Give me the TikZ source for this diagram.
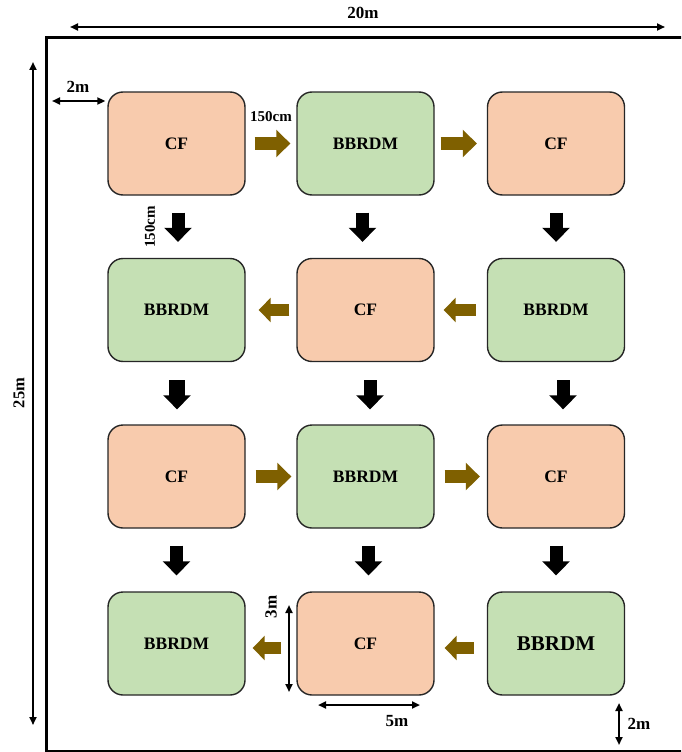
\documentclass[tikz,border=0pt]{standalone}
\usepackage{fontspec}
\setmainfont{Liberation Serif}
\usetikzlibrary{arrows.meta}
\definecolor{cfc}{HTML}{F8CBAD}
\definecolor{bbc}{HTML}{C5E0B4}
\definecolor{brn}{HTML}{7F6000}
\definecolor{edgec}{HTML}{262626}
\begin{document}
\begin{tikzpicture}[x=1pt,y=-1pt,
 box/.style={draw=edgec, line width=1.4pt, rounded corners=15pt, minimum width=137pt, minimum height=103pt, inner sep=0pt, font=\fontsize{17.5}{20}\selectfont\bfseries},
 cf/.style={box, fill=cfc},
 bb/.style={box, fill=bbc},
 flowr/.style={draw=brn, line width=12.5pt, -{Triangle[width=27pt,length=14pt]}},
 flowl/.style={draw=brn, line width=12pt, -{Triangle[width=24pt,length=12pt]}},
 flowd/.style={draw=black, line width=13pt, -{Triangle[width=27pt,length=14pt]}},
 dim/.style={line width=2pt, {Triangle[length=8pt,width=7pt]}-{Triangle[length=8pt,width=7pt]}},
 lab/.style={font=\fontsize{17}{20}\selectfont\bfseries, text=black, inner sep=0pt},
 small/.style={font=\fontsize{15}{18}\selectfont\bfseries, text=black, inner sep=0pt}]
\useasboundingbox (0,0) rectangle (681,752);
\clip (0,0) rectangle (681,752);
% frame
\draw[line width=3pt] (46,38) rectangle (720,751);
% boxes
\node[cf] (a1) at (176.5,143.5) {CF};
\node[bb] (a2) at (365.5,143.5) {BBRDM};
\node[cf] (a3) at (556,143.5) {CF};
\node[bb] (b1) at (176.5,310) {BBRDM};
\node[cf] (b2) at (365.5,310) {CF};
\node[bb] (b3) at (556,310) {BBRDM};
\node[cf] (c1) at (176.5,476.5) {CF};
\node[bb] (c2) at (365.5,476.5) {BBRDM};
\node[cf] (c3) at (556,476.5) {CF};
\node[bb] (d1) at (176.5,643.5) {BBRDM};
\node[cf] (d2) at (365.5,643.5) {CF};
\node[bb, font=\fontsize{21}{24}\selectfont\bfseries] (d3) at (556,643.5) {BBRDM};
% horizontal flow arrows
\draw[flowr] ([xshift=9pt]a1.east) -- ([xshift=-6pt]a2.west);
\draw[flowr] ([xshift=6pt]a2.east) -- ([xshift=-10pt]a3.west);
\draw[flowl] ([xshift=-7pt]b2.west) -- ([xshift=13pt]b1.east);
\draw[flowl] ([xshift=-11pt]b3.west) -- ([xshift=9pt]b2.east);
\draw[flowr] ([xshift=10pt]c1.east) -- ([xshift=-5pt]c2.west);
\draw[flowr] ([xshift=10pt]c2.east) -- ([xshift=-7pt]c3.west);
\draw[flowl] ([xshift=-15pt,yshift=-4.5pt]d2.west) -- ([xshift=7pt,yshift=-4.5pt]d1.east);
\draw[flowl] ([xshift=-13pt,yshift=-4.5pt]d3.west) -- ([xshift=10pt,yshift=-4.5pt]d2.east);
% vertical flow arrows
\draw[flowd, shorten <=17pt, shorten >=16pt] ([xshift=1.5pt]a1.south) -- ([xshift=1.5pt]b1.north);
\draw[flowd, shorten <=17pt, shorten >=16pt] ([xshift=-3pt]a2.south) -- ([xshift=-3pt]b2.north);
\draw[flowd, shorten <=17pt, shorten >=16pt] (a3) -- (b3);
\draw[flowd, line width=16pt, shorten <=18pt, shorten >=15pt] ([xshift=0.5pt]b1.south) -- ([xshift=0.5pt]c1.north);
\draw[flowd, shorten <=18pt, shorten >=15pt] ([xshift=4.5pt]b2.south) -- ([xshift=4.5pt]c2.north);
\draw[flowd, shorten <=18pt, shorten >=15pt] ([xshift=7pt]b3.south) -- ([xshift=7pt]c3.north);
\draw[flowd, shorten <=17pt, shorten >=16pt] (c1) -- (d1);
\draw[flowd, shorten <=17pt, shorten >=16pt] ([xshift=3pt]c2.south) -- ([xshift=3pt]d2.north);
\draw[flowd, shorten <=17pt, shorten >=16pt] (c3) -- (d3);
% dimensions
\coordinate (w1) at (70,27);
\coordinate (w2) at (665,27);
\draw[dim, line width=2.5pt] (w1) -- (w2);
\node[lab] (l20) at (363,13) {20m};
\coordinate (h1) at (33,62);
\coordinate (h2) at (33,725);
\draw[dim, line width=2.5pt] (h1) -- (h2);
\node[lab, font=\fontsize{16.5}{19}\selectfont\bfseries, rotate=90] (l25) at (19,393) {25m};
\coordinate (m1) at (52,101);
\draw[dim, shorten >=2pt] (m1) -- (m1 -| a1.west);
\node[lab] (l2a) at (78,87) {2m};
\node[small] (l150a) at (271,117) {150cm};
\node[small, rotate=90] (l150b) at (150,227) {150cm};
\coordinate (v1) at (289,605);
\coordinate (v2) at (289,692);
\draw[dim] (v1) -- (v2);
\node[lab, rotate=90] (l3) at (271,607) {3m};
\coordinate (u1) at (318,705);
\coordinate (u2) at (420,705);
\draw[dim] (u1) -- (u2);
\node[lab] (l5) at (397,721) {5m};
\coordinate (s1) at (619,703);
\coordinate (s2) at (619,745);
\draw[dim] (s1) -- (s2);
\node[lab] (l2b) at (639,724) {2m};
\end{tikzpicture}
\end{document}
